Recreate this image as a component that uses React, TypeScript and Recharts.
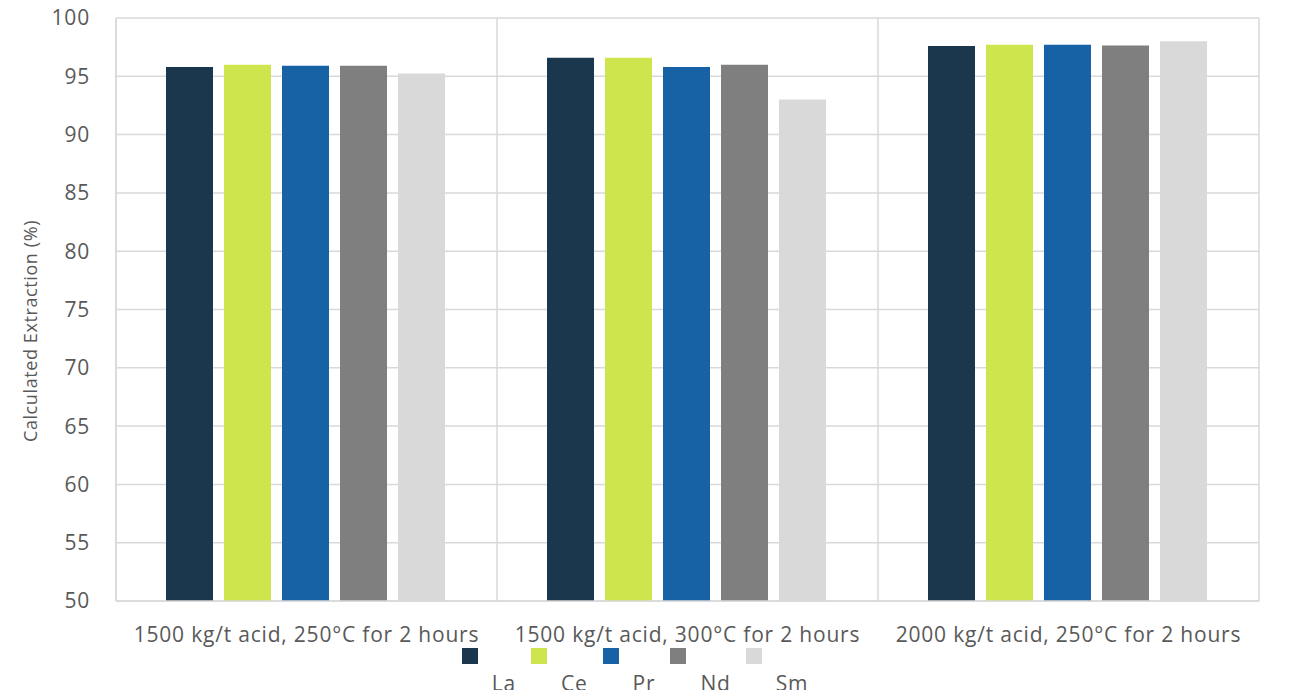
import { Bar, BarChart, CartesianGrid, Label, XAxis, YAxis } from "recharts";

const categories = [
  "1500 kg/t acid, 250°C for 2 hours",
  "1500 kg/t acid, 300°C for 2 hours",
  "2000 kg/t acid, 250°C for 2 hours",
];
const elements = ["La", "Ce", "Pr", "Nd", "Sm"];
const colors = ["#1a374d", "#cfe54d", "#1662a5", "#7f7f7f", "#d9d9d9"];
const laValues = [95.8, 96.6, 97.6];
const ceValues = [96.0, 96.6, 97.7];
const prValues = [95.9, 95.8, 97.7];
const ndValues = [95.9, 96.0, 97.65];
const smValues = [95.25, 93.0, 98.0];
const yTicks = [50, 55, 60, 65, 70, 75, 80, 85, 90, 95, 100];

const seriesValues = [laValues, ceValues, prValues, ndValues, smValues];
const data = categories.map((name, i) => {
  const row: Record<string, string | number> = { name };
  elements.forEach((el, j) => {
    row[el] = seriesValues[j][i];
  });
  return row;
});

const font = "'Open Sans', sans-serif";
const textColor = "#595959";
const tickStyle = { fill: textColor, fontSize: 21, fontFamily: font, letterSpacing: 0.8 };

function ChartLegend() {
  return (
    <div
      style={{
        position: "absolute",
        top: 648,
        left: 0,
        width: 1289,
        display: "flex",
        justifyContent: "center",
        fontFamily: font,
        color: textColor,
        fontSize: 21,
        letterSpacing: 0.8,
        paddingRight: 4,
        boxSizing: "border-box",
      }}
    >
      {elements.map((el, i) => (
        <div key={el} style={{ position: "relative", paddingLeft: 30, marginRight: 15 }}>
          <div
            style={{
              position: "absolute",
              left: 0,
              top: 0,
              width: 16,
              height: 16,
              background: colors[i],
            }}
          />
          <div style={{ paddingTop: 21, lineHeight: "28px" }}>{el}</div>
        </div>
      ))}
    </div>
  );
}

export default function App() {
  return (
    <div style={{ margin: -8, background: "#fff", position: "relative", width: 1289, height: 698 }}>
      <BarChart
        width={1289}
        height={698}
        data={data}
        margin={{ top: 18, right: 30, bottom: 67, left: 0 }}
        barCategoryGap={50}
        barGap={11}
      >
        <CartesianGrid
          stroke="#d9d9d9"
          strokeWidth={1.5}
          verticalCoordinatesGenerator={({ offset }) => {
            const left = offset.left ?? 0;
            const w = offset.width ?? 0;
            return [0, 1, 2, 3].map((k) => left + (w * k) / 3);
          }}
        />
        <XAxis
          dataKey="name"
          height={30}
          axisLine={{ stroke: "#d9d9d9", strokeWidth: 1.5 }}
          tickLine={false}
          tickSize={0}
          tickMargin={26}
          interval={0}
          tick={tickStyle}
        />
        <YAxis
          width={116}
          domain={[50, 100]}
          ticks={yTicks}
          allowDataOverflow
          axisLine={{ stroke: "#d9d9d9", strokeWidth: 1.5 }}
          tickLine={false}
          tickSize={0}
          tickMargin={26}
          tick={tickStyle}
        >
          <Label
            content={() => (
              <text
                x={30}
                y={331}
                transform="rotate(-90 30 331)"
                textAnchor="middle"
                dominantBaseline="central"
                fill={textColor}
                fontSize={18}
                letterSpacing={0.6}
                fontFamily={font}
              >
                Calculated Extraction (%)
              </text>
            )}
          />
        </YAxis>
        {elements.map((el, i) => (
          <Bar key={el} dataKey={el} fill={colors[i]} isAnimationActive={false} />
        ))}
      </BarChart>
      <ChartLegend />
    </div>
  );
}
